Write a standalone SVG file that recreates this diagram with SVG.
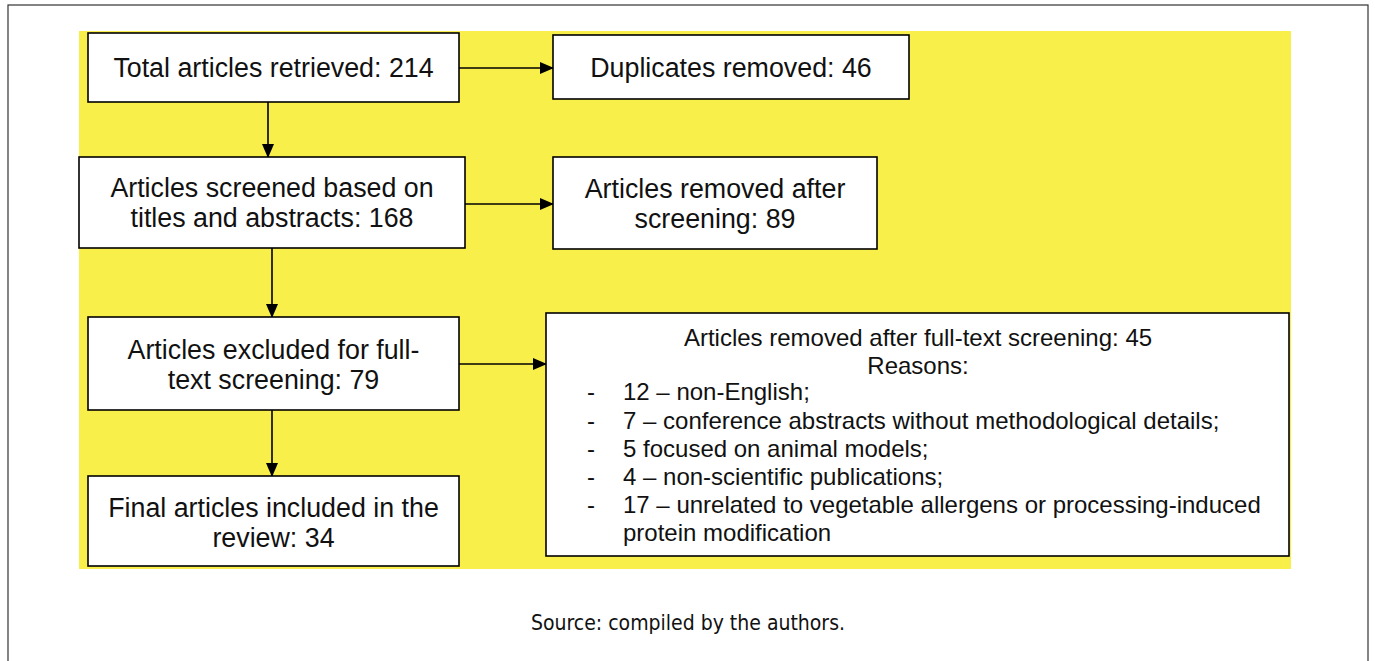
<svg xmlns="http://www.w3.org/2000/svg" width="1375" height="661" viewBox="0 0 1375 661">
<style>
.box{fill:#fff;stroke:#000;stroke-width:1.6}
.t{font-family:"Liberation Sans",Arial,sans-serif;font-size:26.8px;fill:#111;text-anchor:middle}
.m{font-family:"Liberation Sans",Arial,sans-serif;font-size:24px;fill:#111;text-anchor:middle}
.l{font-family:"Liberation Sans",Arial,sans-serif;font-size:24px;fill:#111}
.c{stroke:#000;stroke-width:1.6;fill:none;marker-end:url(#ah)}
.cap{font-family:"DejaVu Sans Condensed","DejaVu Sans",sans-serif;font-size:21px;fill:#111;text-anchor:middle}
</style>
<defs>
<marker id="ah" markerWidth="14" markerHeight="12" refX="13" refY="6" orient="auto" markerUnits="userSpaceOnUse">
<path d="M0,0 L14,6 L0,12 Z" fill="#000"/>
</marker>
</defs>
<rect x="8" y="5" width="1360" height="670" fill="#fff" stroke="#333" stroke-width="1.2"/>
<rect x="79" y="31" width="1212" height="538" fill="#f9ef4b"/>
<g id="connectors">
<line class="c" x1="459" y1="68" x2="553" y2="68"/>
<line class="c" x1="268" y1="102" x2="268" y2="157"/>
<line class="c" x1="465" y1="204" x2="553" y2="204"/>
<line class="c" x1="272" y1="248" x2="272" y2="317"/>
<line class="c" x1="459" y1="364" x2="546" y2="364"/>
<line class="c" x1="272" y1="410" x2="272" y2="476"/>
</g>
<g id="n1"><rect class="box" x="88" y="33" width="371" height="69"/><text class="t" x="273.5" y="77">Total articles retrieved: 214</text></g>
<g id="n2"><rect class="box" x="553" y="35" width="356" height="64"/><text class="t" x="731" y="77">Duplicates removed: 46</text></g>
<g id="n3"><rect class="box" x="79" y="157" width="386" height="91"/><text class="t" x="272" y="197">Articles screened based on</text><text class="t" x="272" y="227">titles and abstracts: 168</text></g>
<g id="n4"><rect class="box" x="553" y="157" width="324" height="92"/><text class="t" x="715" y="198">Articles removed after</text><text class="t" x="715" y="228">screening: 89</text></g>
<g id="n5"><rect class="box" x="88" y="317" width="371" height="93"/><text class="t" x="273.5" y="359">Articles excluded for full-</text><text class="t" x="273.5" y="389">text screening: 79</text></g>
<g id="n6"><rect class="box" x="546" y="313" width="743" height="243"/>
<text class="m" x="918" y="346">Articles removed after full-text screening: 45</text>
<text class="m" x="918" y="374">Reasons:</text>
<text class="l" x="587" y="400">-</text><text class="l" x="623" y="400">12 – non-English;</text>
<text class="l" x="587" y="429">-</text><text class="l" x="623" y="429">7 – conference abstracts without methodological details;</text>
<text class="l" x="587" y="457">-</text><text class="l" x="623" y="457">5 focused on animal models;</text>
<text class="l" x="587" y="485">-</text><text class="l" x="623" y="485">4 – non-scientific publications;</text>
<text class="l" x="587" y="513">-</text><text class="l" x="623" y="513">17 – unrelated to vegetable allergens or processing-induced</text>
<text class="l" x="623" y="541">protein modification</text>
</g>
<g id="n7"><rect class="box" x="88" y="476" width="371" height="90"/><text class="t" x="273.5" y="517">Final articles included in the</text><text class="t" x="273.5" y="547">review: 34</text></g>
<text class="cap" x="688" y="630">Source: compiled by the authors.</text>
</svg>
